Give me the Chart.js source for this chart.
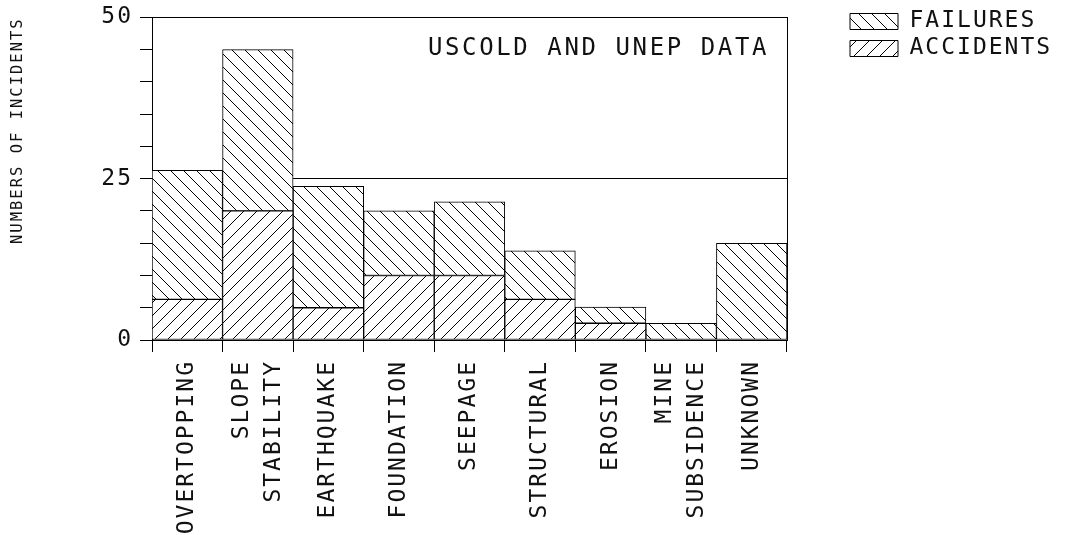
<!DOCTYPE html>
<html>
<head>
<meta charset="utf-8">
<script src="https://cdn.jsdelivr.net/npm/chart.js@4.4.1/dist/chart.umd.min.js"></script>
<style>
  html, body { margin: 0; padding: 0; background: #fff; }
  #wrap { width: 1081px; height: 535px; }
</style>
</head>
<body>
<div id="wrap"><canvas id="mainChart" width="1081" height="535"></canvas></div>
<script>
// ─── data ───
const categories = ['OVERTOPPING', ['SLOPE', 'STABILITY'], 'EARTHQUAKE', 'FOUNDATION', 'SEEPAGE',
    'STRUCTURAL', 'EROSION', ['MINE', 'SUBSIDENCE'], 'UNKNOWN'];
const accidents = [6.3, 20, 5, 10, 10, 6.3, 2.6, null, null];
const failures = [20, 25, 18.8, 10, 11.4, 7.5, 2.5, 2.6, 15];
const labelledTicks = [0, 25, 50];
const yTitle = 'NUMBERS OF INCIDENTS';
const note = 'USCOLD AND UNEP DATA';

const FONT = "'DejaVu Sans Mono', monospace";
const SPACING = '2px';
const INK = '#111';

Chart.defaults.font.family = FONT;
Chart.defaults.color = INK;

// diagonal hatch tile, '\' for failures and '/' for accidents
function hatch(ctx, dir) {
    const s = 13;
    const c = document.createElement('canvas');
    c.width = s;
    c.height = s;
    const g = c.getContext('2d');
    g.fillStyle = '#fff';
    g.fillRect(0, 0, s, s);
    g.strokeStyle = '#000';
    g.lineWidth = 1;
    g.beginPath();
    if (dir === '\\') {
        g.moveTo(-2, -2); g.lineTo(s + 2, s + 2);
        g.moveTo(-2, s - 2); g.lineTo(2, s + 2);
        g.moveTo(s - 2, -2); g.lineTo(s + 2, 2);
    } else {
        g.moveTo(-2, s + 2); g.lineTo(s + 2, -2);
        g.moveTo(-2, 2); g.lineTo(2, -2);
        g.moveTo(s - 2, s + 2); g.lineTo(s + 2, s - 2);
    }
    g.stroke();
    return ctx.createPattern(c, 'repeat');
}

// plotter-style wide lettering, centred two-line tick labels, note in the plot
const plotterText = {
    id: 'plotterText',
    beforeUpdate(chart) { chart.ctx.letterSpacing = SPACING; },
    beforeDraw(chart) {
        chart.ctx.letterSpacing = SPACING;
        // chart.js puts the first line of a rotated multi-line label on the tick;
        // shift those labels back so the block is centred on the tick
        chart.scales.x.getLabelItems().forEach((item) => {
            if (Array.isArray(item.label) && item.label.length > 1) {
                item.options.translation[0] -= item.font.lineHeight * (item.label.length - 1) / 2;
            }
        });
    },
    afterDatasetsDraw(chart) {
        const { ctx, chartArea } = chart;
        ctx.save();
        ctx.font = '24px ' + FONT;
        ctx.letterSpacing = '2.6px';
        ctx.fillStyle = INK;
        ctx.textAlign = 'right';
        ctx.textBaseline = 'top';
        ctx.fillText(note, chartArea.right - 18, chartArea.top + 19);
        ctx.restore();
    },
};

const canvas = document.getElementById('mainChart');
const ctx = canvas.getContext('2d');

new Chart(ctx, {
    type: 'bar',
    data: {
        labels: categories,
        datasets: [
            {
                label: 'ACCIDENTS',
                data: accidents,
                backgroundColor: hatch(ctx, '/'),
                borderColor: '#000',
                borderWidth: 1,
                borderSkipped: false,
                categoryPercentage: 1,
                barPercentage: 1,
            },
            {
                label: 'FAILURES',
                data: failures,
                backgroundColor: hatch(ctx, '\\'),
                borderColor: '#000',
                borderWidth: 1,
                borderSkipped: false,
                categoryPercentage: 1,
                barPercentage: 1,
            },
        ],
    },
    options: {
        responsive: false,
        animation: false,
        layout: { padding: { top: 6, right: 0, left: 0, bottom: 0 } },
        plugins: {
            legend: {
                position: 'right',
                align: 'start',
                reverse: true,
                maxWidth: 235,
                labels: {
                    boxWidth: 48,
                    boxHeight: 16,
                    padding: 4,
                    color: INK,
                    font: { size: 23, lineHeight: 1 },
                    // trailing blanks so the measured width never clips the spaced lettering
                    generateLabels: (chart) => Chart.defaults.plugins.legend.labels.generateLabels(chart)
                        .map((l) => ({ ...l, text: l.text.padEnd(18, ' ') })),
                },
            },
            tooltip: { enabled: false },
        },
        scales: {
            x: {
                stacked: true,
                offset: true,
                grid: { offset: true, drawOnChartArea: false, tickLength: 12, tickColor: '#000' },
                border: { color: '#000', width: 1 },
                ticks: {
                    color: INK,
                    autoSkip: false,
                    minRotation: 90,
                    maxRotation: 90,
                    padding: 8,
                    font: { size: 23, lineHeight: 1.4 },
                },
                afterFit: (s) => { s.height = 195; },
            },
            // empty top strip, keeps the plot below the legend's first row
            xTop: {
                type: 'category',
                labels: categories,
                position: 'top',
                grid: { display: false, drawTicks: false },
                ticks: { display: false },
                border: { display: false },
                afterFit: (s) => { s.height = 8; },
            },
            y: {
                stacked: true,
                min: 0,
                max: 50,
                ticks: {
                    stepSize: 5,
                    color: INK,
                    padding: 7,
                    font: { size: 23, lineHeight: 0.9 },
                    callback: (v) => labelledTicks.includes(v) ? v : '',
                },
                grid: {
                    color: (c) => (c.tick && (c.tick.value === 25 || c.tick.value === 50)) ? '#000' : 'rgba(0,0,0,0)',
                    tickColor: '#000',
                    tickLength: 12,
                },
                border: { color: '#000', width: 1 },
                title: {
                    display: true,
                    text: yTitle,
                    align: 'end',
                    color: INK,
                    font: { size: 15.5 },
                    padding: { top: 9, bottom: 0 },
                },
                afterFit: (s) => { s.width = 152; },
            },
            y2: {
                position: 'right',
                min: 0,
                max: 50,
                grid: { drawOnChartArea: false, drawTicks: false },
                ticks: { display: false },
                border: { display: true, color: '#000', width: 1 },
                afterFit: (s) => { s.width = 59; },
            },
        },
    },
    plugins: [plotterText],
});
</script>
</body>
</html>
